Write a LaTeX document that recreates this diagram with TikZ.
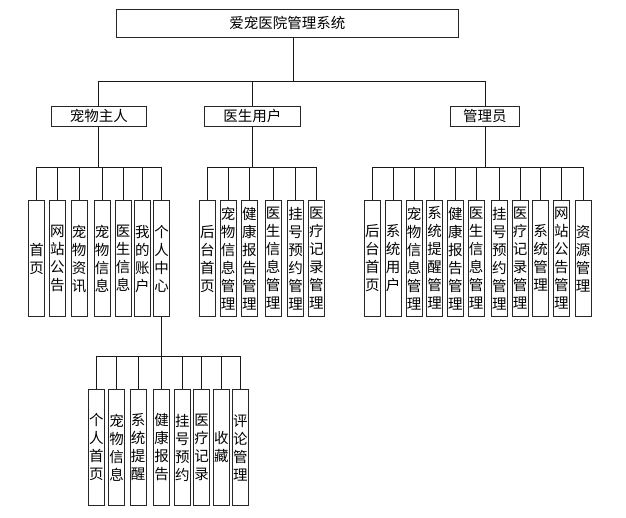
\documentclass[tikz,border=0pt]{standalone}
\usepackage{fontspec}
\setmainfont{Noto Sans CJK SC}
\begin{document}
\begin{tikzpicture}[x=1pt,y=-1pt,
  box/.style={draw=black!85,line width=0.9pt,inner sep=0pt,fill=white,
    font=\fontsize{14.5}{18}\selectfont},
  leaf/.style={box,minimum width=16pt,minimum height=115.8pt,align=center,
    font=\fontsize{14.5}{18}\selectfont},
  link/.style={draw=black!90,line width=0.8pt}]
\useasboundingbox (0,0) rectangle (626,518);
% root
\node[box,minimum width=342pt,minimum height=28.3pt] (root) at (287.3,23.2) {爱宠医院管理系统};
% level 2
\node[box,minimum width=95.7pt,minimum height=20pt] (owner) at (98.8,116) {宠物主人};
\node[box,minimum width=95.3pt,minimum height=20pt] (doctor) at (252.4,116) {医生用户};
\node[box,minimum width=68.3pt,minimum height=20pt] (admin) at (484.9,116) {管理员};
\coordinate (trunk) at (293.7,37.3);
\foreach \c in {owner,doctor,admin}
  \draw[link] (trunk) -- (trunk |- 0,81.3) -| (\c.north);
% owner leaves
\node[leaf] (o1) at (36.7,258.6) {首\\页};
\node[leaf] (o2) at (57.3,258.6) {网\\站\\公\\告};
\node[leaf] (o3) at (79,258.6) {宠\\物\\资\\讯};
\node[leaf] (o4) at (102,258.6) {宠\\物\\信\\息};
\node[leaf] (o5) at (123,258.6) {医\\生\\信\\息};
\node[leaf] (o6) at (142.4,258.6) {我\\的\\账\\户};
\node[leaf] (o7) at (161.6,258.6) {个\\人\\中\\心};
\foreach \c in {o1,o2,o3,o4,o5,o6,o7}
  \draw[link] (owner.south) -- (owner.south |- 0,167.5) -| (\c.north);
% doctor leaves
\node[leaf] (d1) at (207.3,258.6) {后\\台\\首\\页};
\node[leaf] (d2) at (228,258.6) {宠\\物\\信\\息\\管\\理};
\node[leaf] (d3) at (249.3,258.6) {健\\康\\报\\告\\管\\理};
\node[leaf] (d4) at (273,258.6) {医\\生\\信\\息\\管\\理};
\node[leaf] (d5) at (295.7,258.6) {挂\\号\\预\\约\\管\\理};
\node[leaf] (d6) at (316.3,258.6) {医\\疗\\记\\录\\管\\理};
\foreach \c in {d1,d2,d3,d4,d5,d6}
  \draw[link] (doctor.south) -- (doctor.south |- 0,167.5) -| (\c.north);
% admin leaves
\node[leaf] (a1) at (372.3,258.3) {后\\台\\首\\页};
\node[leaf] (a2) at (393,258.3) {系\\统\\用\\户};
\node[leaf] (a3) at (414,258.3) {宠\\物\\信\\息\\管\\理};
\node[leaf] (a4) at (434.7,258.3) {系\\统\\提\\醒\\管\\理};
\node[leaf] (a5) at (455.3,258.3) {健\\康\\报\\告\\管\\理};
\node[leaf] (a6) at (476,258.3) {医\\生\\信\\息\\管\\理};
\node[leaf] (a7) at (499.3,258.3) {挂\\号\\预\\约\\管\\理};
\node[leaf] (a8) at (520,258.3) {医\\疗\\记\\录\\管\\理};
\node[leaf] (a9) at (540.7,258.3) {系\\统\\管\\理};
\node[leaf] (a10) at (561.3,258.3) {网\\站\\公\\告\\管\\理};
\node[leaf] (a11) at (583,258.3) {资\\源\\管\\理};
\foreach \c in {a1,a2,a3,a4,a5,a6,a7,a8,a9,a10,a11}
  \draw[link] (admin.south) -- (admin.south |- 0,167.5) -| (\c.north);
% personal center sub-leaves
\node[leaf,minimum height=116.4pt] (p1) at (96.3,447.5) {个\\人\\首\\页};
\node[leaf,minimum height=116.4pt] (p2) at (116.7,447.5) {宠\\物\\信\\息};
\node[leaf,minimum height=116.4pt] (p3) at (138,447.5) {系\\统\\提\\醒};
\node[leaf,minimum height=116.4pt] (p4) at (161.7,447.5) {健\\康\\报\\告};
\node[leaf,minimum height=116.4pt] (p5) at (182.3,447.5) {挂\\号\\预\\约};
\node[leaf,minimum height=116.4pt] (p6) at (201.7,447.5) {医\\疗\\记\\录};
\node[leaf,minimum height=116.4pt] (p7) at (221.3,447.5) {收\\藏};
\node[leaf,minimum height=116.4pt] (p8) at (240.3,447.5) {评\\论\\管\\理};
\foreach \c in {p1,p2,p3,p4,p5,p6,p7,p8}
  \draw[link] (o7.south) -- (o7.south |- 0,356.7) -| (\c.north);
\end{tikzpicture}
\end{document}
